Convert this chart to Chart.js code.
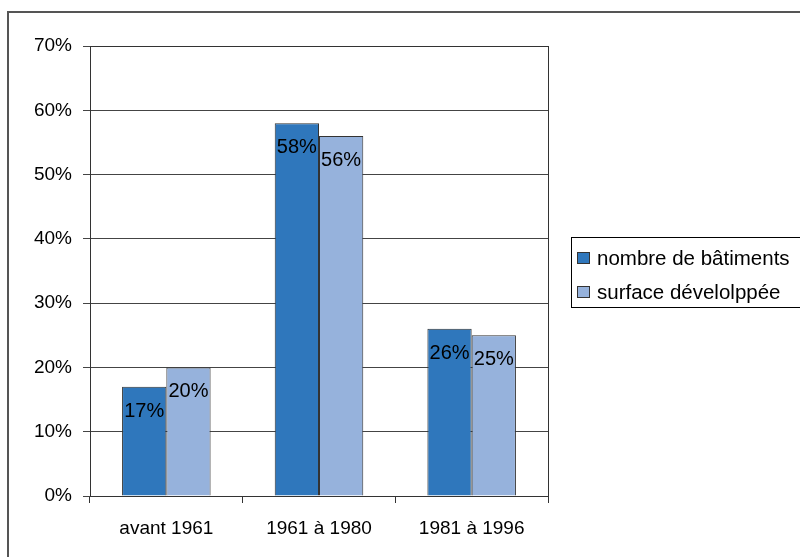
<!DOCTYPE html>
<html>
<head>
<meta charset="utf-8">
<script src="https://cdn.jsdelivr.net/npm/chart.js@4/dist/chart.umd.min.js"></script>
<style>
html,body{margin:0;padding:0;background:#fff}
#wrap{position:relative;width:800px;height:557px}
</style>
</head>
<body>
<div id="wrap"><canvas id="c" width="800" height="557"></canvas></div>
<script>
// Periods of construction and the share of each series (%)
const periods = ['avant 1961', '1961 à 1980', '1981 à 1996'];
const nombreBatiments = [17, 58, 26];
const surfaceDeveloppee = [20, 56, 25];
const seriesNames = ['nombre de bâtiments', 'surface dévelolppée'];
const yTickValues = [0, 10, 20, 30, 40, 50, 60, 70];

const FONT = '"Liberation Sans", Arial, sans-serif';
const DARK_BLUE = '#2F77BC';
const LIGHT_BLUE = '#96B2DC';
const EDGE = '#333333';

// White page with the outer frame lines
const framePlugin = {
  id: 'frame',
  beforeDraw(chart) {
    const ctx = chart.ctx;
    ctx.save();
    ctx.fillStyle = '#fff';
    ctx.fillRect(0, 0, chart.width, chart.height);
    ctx.strokeStyle = '#555';
    ctx.lineWidth = 2;
    ctx.beginPath();
    ctx.moveTo(8, chart.height + 2);
    ctx.lineTo(8, 12);
    ctx.lineTo(chart.width + 2, 12);
    ctx.stroke();
    ctx.restore();
  }
};

// Box around the plot area
const plotBorderPlugin = {
  id: 'plotBorder',
  afterDatasetsDraw(chart) {
    const a = chart.chartArea;
    const ctx = chart.ctx;
    ctx.save();
    ctx.strokeStyle = EDGE;
    ctx.lineWidth = 1;
    ctx.strokeRect(Math.round(a.left) + 0.5, Math.round(a.top) + 0.5,
      Math.round(a.right - a.left), Math.round(a.bottom - a.top));
    ctx.restore();
  }
};

// Percent labels just inside the top of each bar
const valueLabelPlugin = {
  id: 'valueLabels',
  afterDatasetsDraw(chart) {
    const ctx = chart.ctx;
    ctx.save();
    ctx.font = '20px ' + FONT;
    ctx.fillStyle = '#000';
    ctx.textAlign = 'center';
    ctx.textBaseline = 'alphabetic';
    chart.data.datasets.forEach((ds, di) => {
      chart.getDatasetMeta(di).data.forEach((bar, i) => {
        ctx.fillText(ds.data[i] + '%', bar.x, bar.y + 30);
      });
    });
    ctx.restore();
  }
};

// Legend in a framed box on the right
const boxLegendPlugin = {
  id: 'boxLegend',
  afterDraw(chart) {
    const ctx = chart.ctx;
    ctx.save();
    ctx.strokeStyle = '#000';
    ctx.lineWidth = 1;
    ctx.strokeRect(571.5, 237.5, 240, 70);
    ctx.font = '20.5px ' + FONT;
    ctx.textBaseline = 'middle';
    ctx.textAlign = 'left';
    chart.data.datasets.forEach((ds, i) => {
      const cy = 258 + i * 34;
      ctx.fillStyle = ds.backgroundColor;
      ctx.fillRect(577, cy - 6, 13, 12);
      ctx.strokeStyle = EDGE;
      ctx.strokeRect(577.5, cy - 5.5, 12, 11);
      ctx.fillStyle = '#000';
      ctx.fillText(ds.label, 597, cy + 1);
    });
    ctx.restore();
  }
};

new Chart(document.getElementById('c'), {
  type: 'bar',
  data: {
    labels: periods,
    datasets: [
      { label: seriesNames[0], data: nombreBatiments, backgroundColor: DARK_BLUE,
        borderColor: EDGE, borderWidth: 1 },
      { label: seriesNames[1], data: surfaceDeveloppee, backgroundColor: LIGHT_BLUE,
        borderColor: EDGE, borderWidth: 1 }
    ]
  },
  options: {
    responsive: false,
    devicePixelRatio: 1,
    animation: false,
    layout: { padding: { left: 0, top: 46, right: 252, bottom: 21 } },
    datasets: { bar: { categoryPercentage: 0.58, barPercentage: 1 } },
    plugins: {
      legend: { display: false },
      tooltip: { enabled: false }
    },
    scales: {
      x: {
        grid: { offset: true, drawOnChartArea: false, drawTicks: true, tickLength: 7, color: EDGE },
        border: { display: true, color: EDGE },
        ticks: { font: { family: FONT, size: 19 }, color: '#000', padding: 14, maxRotation: 0 },
        afterFit(scale) { scale.height = 40; }
      },
      y: {
        min: 0,
        max: 70,
        afterBuildTicks(scale) { scale.ticks = yTickValues.map(v => ({ value: v })); },
        grid: { color: '#444', tickLength: 7, drawTicks: true },
        border: { display: true, color: EDGE },
        ticks: { font: { family: FONT, size: 19 }, color: '#000', padding: 11,
          callback: v => v + '%' },
        afterFit(scale) { scale.width = 90; }
      }
    }
  },
  plugins: [framePlugin, plotBorderPlugin, valueLabelPlugin, boxLegendPlugin]
});
</script>
</body>
</html>
